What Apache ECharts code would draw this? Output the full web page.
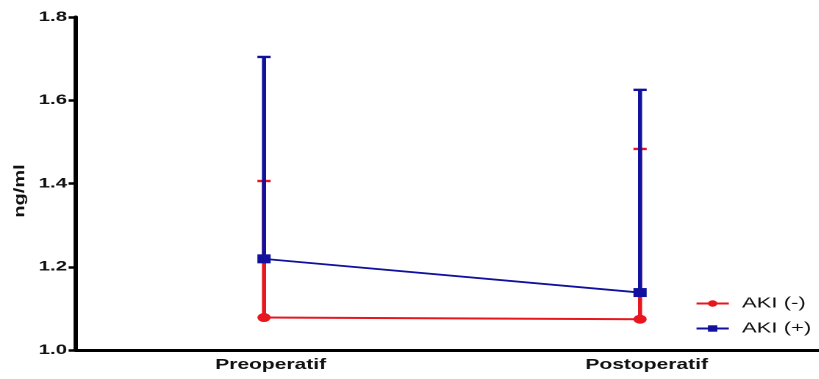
<!DOCTYPE html>
<html>
<head>
<meta charset="utf-8">
<script src="https://cdn.jsdelivr.net/npm/echarts@6/dist/echarts.min.js"></script>
<style>
  html, body { margin: 0; padding: 0; background: #fff; overflow: hidden; width: 819px; height: 379px; }
  /* the plot is laid out narrow and widened horizontally */
  #chart { width: 580px; height: 379px; transform: scaleX(1.47); transform-origin: 0 0; }
</style>
</head>
<body>
<div id="chart"></div>
<script>
// Sampling times
const categories = ['Preoperatif', 'Postoperatif'];
// Group means (ng/ml)
const akiNegMean = [1.078, 1.074];
const akiPosMean = [1.219, 1.138];
// Upper error limits (ng/ml)
const akiNegUpper = [1.406, 1.483];
const akiPosUpper = [1.704, 1.625];
// Y-axis ticks
const yTicks = [1.0, 1.2, 1.4, 1.6, 1.8];

const RED = '#e8161e';
const BLUE = '#11119e';
const SX = 1.47;
const FONT = 'Liberation Sans, Arial, sans-serif';

function errorData(means, uppers) {
  return means.map((m, i) => [i, m, uppers[i]]);
}

function errorBarRender(color) {
  return function (params, api) {
    const x = api.value(0);
    const mean = api.coord([x, api.value(1)]);
    const top = api.coord([x, api.value(2)]);
    const half = 4.5;
    return {
      type: 'group',
      children: [
        { type: 'line', shape: { x1: mean[0], y1: mean[1], x2: top[0], y2: top[1] },
          style: { stroke: color, lineWidth: 2.8 } },
        { type: 'line', shape: { x1: top[0] - half, y1: top[1], x2: top[0] + half, y2: top[1] },
          style: { stroke: color, lineWidth: 2.4 } }
      ]
    };
  };
}

const chart = echarts.init(document.getElementById('chart'), null, { devicePixelRatio: 2 });
chart.setOption({
  animation: false,
  backgroundColor: '#ffffff',
  textStyle: { fontFamily: FONT },
  grid: { left: 51.7, top: 17, bottom: 29, width: 511.6, containLabel: false },
  graphic: [{
    type: 'text',
    x: 20 / SX,
    y: 191,
    rotation: Math.PI / 2,
    scaleY: 0.52,
    style: {
      text: 'ng/ml',
      fontSize: 20,
      fontWeight: 'bold',
      fontFamily: FONT,
      fill: '#111',
      textAlign: 'center',
      textVerticalAlign: 'middle'
    }
  }],
  legend: {
    orient: 'vertical',
    left: 472.8,
    top: 296,
    padding: 0,
    itemWidth: 22,
    itemHeight: 8,
    itemGap: 10,
    textStyle: { fontSize: 15, lineHeight: 14, color: '#111', fontFamily: FONT, padding: [0, 0, 0, 4] },
    data: ['AKI (-)', 'AKI (+)']
  },
  xAxis: {
    type: 'category',
    data: categories,
    boundaryGap: true,
    axisLine: { lineStyle: { color: '#000', width: 3 } },
    axisTick: { alignWithLabel: true, length: 6, lineStyle: { color: '#000', width: 2 } },
    axisLabel: { margin: 8, fontSize: 14.3, fontWeight: 'bold', color: '#111', padding: [0, 0, 0, 9] },
    splitLine: { show: false }
  },
  yAxis: {
    type: 'value',
    min: yTicks[0],
    max: yTicks[yTicks.length - 1],
    interval: 0.2,
    axisLine: { show: true, lineStyle: { color: '#000', width: 3 } },
    axisTick: { show: true, length: 5, lineStyle: { color: '#000', width: 2.5 } },
    axisLabel: { margin: 6, fontSize: 14, fontWeight: 'bold', color: '#111',
      formatter: v => v.toFixed(1) },
    splitLine: { show: false }
  },
  series: [
    {
      name: 'AKI (-) error',
      type: 'custom',
      renderItem: errorBarRender(RED),
      data: errorData(akiNegMean, akiNegUpper),
      encode: { x: 0, y: [1, 2] },
      z: 1
    },
    {
      name: 'AKI (-)',
      type: 'line',
      data: akiNegMean,
      symbol: 'circle',
      symbolSize: 9,
      itemStyle: { color: RED },
      lineStyle: { color: RED, width: 2 },
      z: 2
    },
    {
      name: 'AKI (+) error',
      type: 'custom',
      renderItem: errorBarRender(BLUE),
      data: errorData(akiPosMean, akiPosUpper),
      encode: { x: 0, y: [1, 2] },
      z: 3
    },
    {
      name: 'AKI (+)',
      type: 'line',
      data: akiPosMean,
      symbol: 'rect',
      symbolSize: 9,
      itemStyle: { color: BLUE },
      lineStyle: { color: BLUE, width: 1.8 },
      z: 4
    }
  ]
});
</script>
</body>
</html>
